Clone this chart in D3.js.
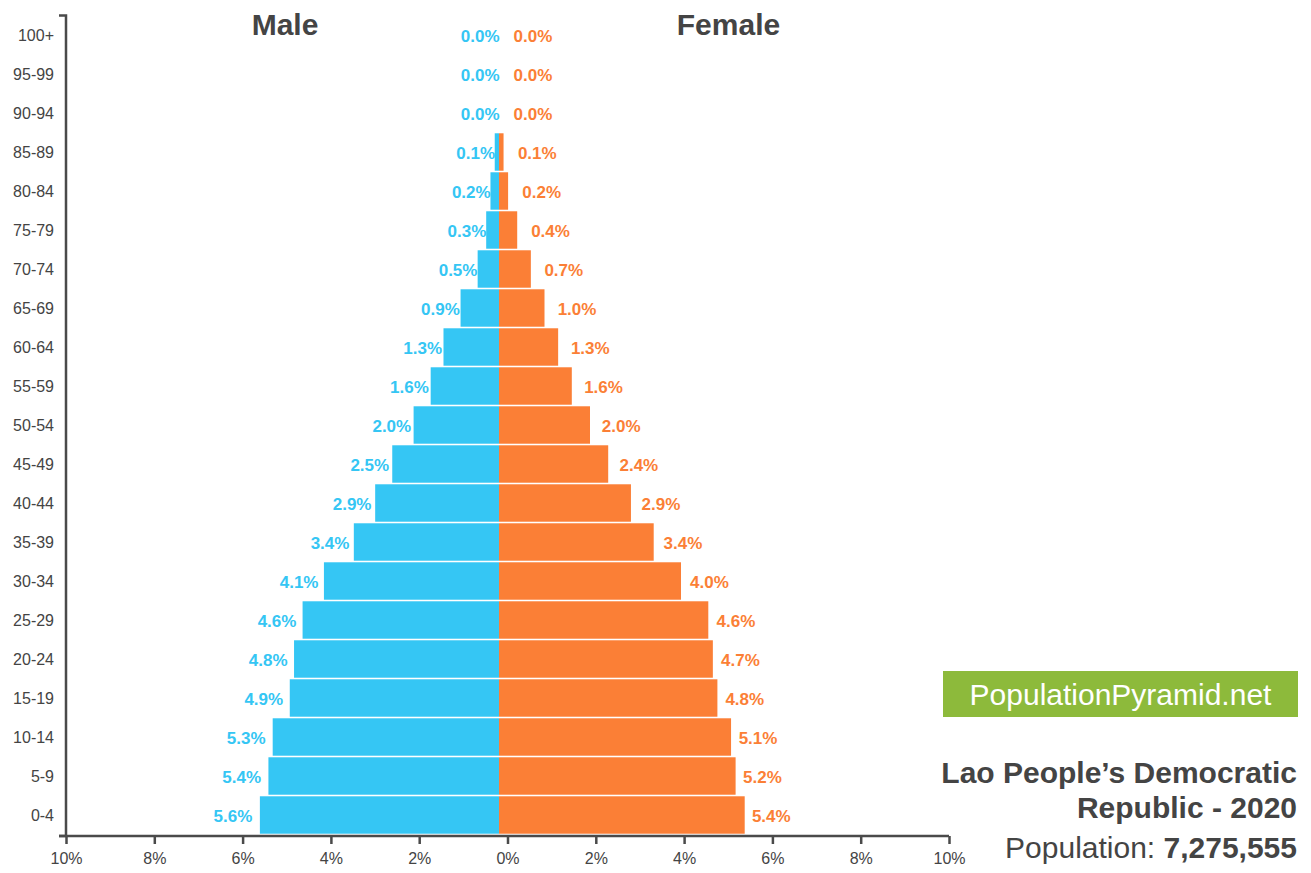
<!DOCTYPE html>
<html><head><meta charset="utf-8">
<script src="https://cdn.jsdelivr.net/npm/d3@7"></script>
<style>body{margin:0;background:#fff;} svg{display:block;font-family:Arial,"Liberation Sans",sans-serif;}</style>
</head><body>
<svg id="chart" width="1311" height="873"></svg>
<script>
const ageGroups = ["100+","95-99","90-94","85-89","80-84","75-79","70-74","65-69","60-64","55-59","50-54","45-49","40-44","35-39","30-34","25-29","20-24","15-19","10-14","5-9","0-4"];
const maleValues = [0.0,0.0,0.0,0.1,0.2,0.3,0.5,0.9,1.3,1.6,2.0,2.5,2.9,3.4,4.1,4.6,4.8,4.9,5.3,5.4,5.6];
const femaleValues = [0.0,0.0,0.0,0.1,0.2,0.4,0.7,1.0,1.3,1.6,2.0,2.4,2.9,3.4,4.0,4.6,4.7,4.8,5.1,5.2,5.4];
const axisTicks = [-10,-8,-6,-4,-2,0,2,4,6,8,10];
const title1 = "Lao People\u2019s Democratic";
const title2 = "Republic - 2020";
const popLabel = "Population: ";
const popValue = "7,275,555";
const brand = "PopulationPyramid.net";

const svg = d3.select("#chart");
const textColor = "#444";
const maleColor = "#35c6f4";
const femaleColor = "#fb7f36";

const y = d3.scaleBand().domain(ageGroups).range([15.5, 834.5]).paddingInner(0.04).paddingOuter(0.02);
const xMale = d3.scaleLinear().domain([0,10]).range([499, 72]);
const xFemale = d3.scaleLinear().domain([0,10]).range([499, 954]);
const xAxisScale = d3.scaleLinear().domain([-10,10]).range([66, 949]);

// bars
svg.append("g").selectAll("rect.m").data(ageGroups).join("rect")
  .attr("x", (d,i)=>xMale(maleValues[i]))
  .attr("width", (d,i)=>xMale(0)-xMale(maleValues[i]))
  .attr("y", d=>y(d)).attr("height", y.bandwidth())
  .attr("fill", maleColor);
svg.append("g").selectAll("rect.f").data(ageGroups).join("rect")
  .attr("x", xFemale(0))
  .attr("width", (d,i)=>xFemale(femaleValues[i])-xFemale(0))
  .attr("y", d=>y(d)).attr("height", y.bandwidth())
  .attr("fill", femaleColor);

// value labels
svg.append("g").selectAll("text").data(ageGroups).join("text")
  .attr("x", (d,i)=>xAxisScale(-maleValues[i]) - 8)
  .attr("y", d=>y(d)+y.bandwidth()/2 + 1)
  .attr("dy","0.35em").attr("text-anchor","end")
  .attr("font-size",17).attr("font-weight","bold").attr("fill",maleColor)
  .text((d,i)=>maleValues[i].toFixed(1)+"%");
svg.append("g").selectAll("text").data(ageGroups).join("text")
  .attr("x", (d,i)=>xAxisScale(femaleValues[i]) + 6)
  .attr("y", d=>y(d)+y.bandwidth()/2 + 1)
  .attr("dy","0.35em").attr("text-anchor","start")
  .attr("font-size",17).attr("font-weight","bold").attr("fill",femaleColor)
  .text((d,i)=>femaleValues[i].toFixed(1)+"%");

// axes
const yAxis = svg.append("g").attr("transform","translate(66,0)")
  .call(d3.axisLeft(y).tickSize(0).tickSizeOuter(7).tickPadding(12));
const xAxis = svg.append("g").attr("transform","translate(0,836)")
  .call(d3.axisBottom(xAxisScale).tickValues(axisTicks).tickSize(8).tickSizeOuter(0).tickPadding(9)
    .tickFormat(d=>Math.abs(d)+"%"));
[yAxis,xAxis].forEach(g=>{
  g.selectAll("path,line").attr("stroke","#4a4a4a").attr("stroke-width",2.5);
  g.selectAll("text").attr("fill",textColor).attr("font-size",16).attr("font-family","Arial, 'Liberation Sans', sans-serif");
});
yAxis.selectAll(".tick text").attr("dy","0.4em");
yAxis.select("path.domain").attr("d","M-7,15.5H0V836H-7");
xAxis.select("path.domain").attr("d","M59,0H949");

// headers
svg.append("text").attr("x",285).attr("y",35).attr("text-anchor","middle")
  .attr("font-size",30).attr("font-weight","bold").attr("fill",textColor).text("Male");
svg.append("text").attr("x",728.5).attr("y",35).attr("text-anchor","middle")
  .attr("font-size",30).attr("font-weight","bold").attr("fill",textColor).text("Female");

// brand box
svg.append("rect").attr("x",943).attr("y",671).attr("width",355).attr("height",46).attr("fill","#8dba3b");
svg.append("text").attr("x",1120.5).attr("y",704.5).attr("text-anchor","middle")
  .attr("font-size",30).attr("fill","#fff").text(brand);

// title
svg.append("text").attr("x",1297).attr("y",783).attr("text-anchor","end")
  .attr("font-size",30).attr("font-weight","bold").attr("fill",textColor).text(title1);
svg.append("text").attr("x",1297).attr("y",818).attr("text-anchor","end")
  .attr("font-size",30).attr("font-weight","bold").attr("fill",textColor).text(title2);
const pop = svg.append("text").attr("x",1297).attr("y",858).attr("text-anchor","end")
  .attr("font-size",30).attr("fill",textColor);
pop.append("tspan").text(popLabel);
pop.append("tspan").attr("font-weight","bold").text(popValue);
</script>
</body></html>
